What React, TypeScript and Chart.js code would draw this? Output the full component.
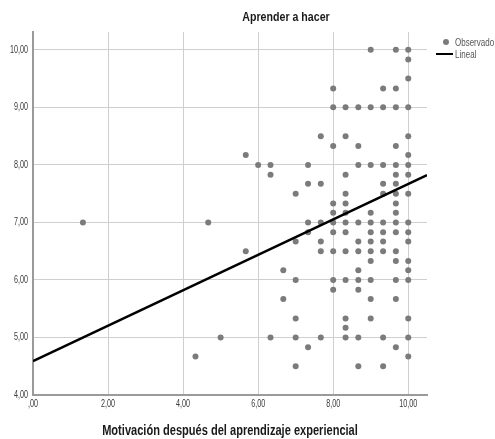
import React, { useEffect, useRef } from "react";
import { Chart, registerables } from "chart.js";

Chart.register(...registerables);

// Observed x values (columns) and the y values observed at each x
const xValues = [1.33, 4.33, 4.67, 5.0, 5.67, 6.0, 6.33, 6.67, 7.0, 7.33, 7.67, 8.0, 8.33, 8.67, 9.0, 9.33, 9.67, 10.0];
const yByX = [
  [7.0],
  [4.67],
  [7.0],
  [5.0],
  [8.17, 6.5],
  [8.0],
  [8.0, 7.83, 5.0],
  [6.17, 5.67],
  [7.5, 6.67, 6.0, 5.33, 5.0, 4.5],
  [8.0, 7.67, 7.0, 6.83, 4.83],
  [8.5, 7.67, 7.0, 6.67, 6.5, 5.0],
  [9.33, 9.0, 8.33, 7.33, 7.17, 7.0, 6.83, 6.5, 6.0, 5.83],
  [9.0, 8.5, 7.83, 7.5, 7.33, 7.17, 7.0, 6.83, 6.5, 6.0, 5.33, 5.17, 5.0],
  [9.0, 8.33, 8.0, 7.0, 6.67, 6.5, 6.17, 6.0, 5.83, 5.0, 4.5],
  [10.0, 9.0, 8.0, 7.17, 7.0, 6.83, 6.67, 6.5, 6.33, 6.0, 5.67, 5.33],
  [9.33, 9.0, 8.0, 7.67, 7.5, 7.0, 6.83, 6.67, 6.5, 5.0, 4.5],
  [10.0, 9.33, 9.0, 8.33, 8.0, 7.83, 7.67, 7.5, 7.33, 7.17, 7.0, 6.83, 6.5, 6.33, 6.0, 5.67, 4.83],
  [10.0, 9.83, 9.5, 9.0, 8.5, 8.17, 8.0, 7.83, 7.5, 7.0, 6.83, 6.67, 6.33, 6.17, 6.0, 5.33, 5.0, 4.67],
];

// Linear fit
const fitIntercept = 4.59;
const fitSlope = 0.308;

// Axis ranges
const xRange = [0, 10.5];
const yRange = [4, 10.31];
const xStep = 2;
const yStep = 1;

const titleText = "Aprender a hacer";
const xAxisTitle = "Motivación después del aprendizaje experiencial";
const legendLabels = ["Observado", "Lineal"];

const FONT = "'Liberation Sans', Arial, sans-serif";
const POINT_COLOR = "#7b7b7b";

const fmt = (v: number) => {
  const s = v.toFixed(2).replace(".", ",");
  return s.startsWith("0,") ? s.slice(1) : s;
};

// draw horizontally condensed text (emulates a narrow face)
function narrowText(ctx: any, text: string, x: number, y: number, font: string, align: string, sx: number, color: string) {
  ctx.save();
  ctx.translate(x, y);
  ctx.scale(sx, 1);
  ctx.font = font;
  ctx.fillStyle = color;
  ctx.textAlign = align;
  ctx.textBaseline = "middle";
  ctx.fillText(text, 0, 0);
  ctx.restore();
}

const textPlugin = {
  id: "spssText",
  afterDraw(chart: any) {
    const ctx = chart.ctx;
    const area = chart.chartArea;
    const xs = chart.scales.x;
    const ys = chart.scales.y;
    // tick labels
    ys.ticks.forEach((t: any) => {
      const py = ys.getPixelForValue(t.value);
      narrowText(ctx, fmt(t.value), area.left - 5, py, `10px ${FONT}`, "right", 0.72, "#3a3a3a");
    });
    xs.ticks.forEach((t: any) => {
      const px = xs.getPixelForValue(t.value);
      narrowText(ctx, fmt(t.value), px, area.bottom + 9, `10px ${FONT}`, "center", 0.72, "#3a3a3a");
    });
    // Title
    narrowText(ctx, titleText, 286, 18, `bold 12.5px ${FONT}`, "center", 0.85, "#1a1a1a");
    // X axis title
    narrowText(ctx, xAxisTitle, (area.left + area.right) / 2, 431, `bold 14px ${FONT}`, "center", 0.79, "#1a1a1a");
    // Legend
    ctx.save();
    ctx.beginPath();
    ctx.arc(446, 42, 3, 0, Math.PI * 2);
    ctx.fillStyle = POINT_COLOR;
    ctx.fill();
    ctx.beginPath();
    ctx.moveTo(436, 54);
    ctx.lineTo(453, 54);
    ctx.strokeStyle = "#000";
    ctx.lineWidth = 2;
    ctx.stroke();
    ctx.restore();
    narrowText(ctx, legendLabels[0], 455, 43, `10px ${FONT}`, "left", 0.8, "#555");
    narrowText(ctx, legendLabels[1], 455, 55, `10px ${FONT}`, "left", 0.8, "#555");
  },
};

export default function App() {
  const ref = useRef<HTMLCanvasElement | null>(null);

  useEffect(() => {
    if (!ref.current) return;
    const points: { x: number; y: number }[] = [];
    xValues.forEach((x, i) => yByX[i].forEach((y) => points.push({ x, y })));
    const lineData = xRange.map((x) => ({ x, y: fitIntercept + fitSlope * x }));

    const chart = new Chart(ref.current, {
      type: "scatter",
      data: {
        datasets: [
          {
            label: legendLabels[1],
            data: lineData,
            showLine: true,
            borderColor: "#000",
            borderWidth: 2.5,
            pointRadius: 0,
            order: 0,
          },
          {
            label: legendLabels[0],
            data: points,
            backgroundColor: POINT_COLOR,
            borderColor: POINT_COLOR,
            borderWidth: 0,
            pointRadius: 3,
            order: 1,
          },
        ],
      },
      options: {
        animation: false,
        responsive: false,
        devicePixelRatio: 1,
        layout: { padding: { top: 32, right: 68, left: 0, bottom: 0 } },
        plugins: {
          legend: { display: false },
          title: { display: false },
          tooltip: { enabled: false },
        },
        scales: {
          x: {
            type: "linear",
            min: xRange[0],
            max: xRange[1],
            afterFit: (s: any) => {
              s.height = 44;
            },
            grid: { color: "#cfcfcf", lineWidth: 1, drawTicks: false },
            border: { display: true, color: "#9a9a9a", width: 2 },
            ticks: {
              display: false,
              stepSize: xStep,
              includeBounds: false,
            },
          },
          y: {
            type: "linear",
            min: yRange[0],
            max: yRange[1],
            afterFit: (s: any) => {
              s.width = 33;
            },
            grid: { color: "#cfcfcf", lineWidth: 1, drawTicks: false },
            border: { display: true, color: "#9a9a9a", width: 2 },
            ticks: {
              display: false,
              stepSize: yStep,
              includeBounds: false,
            },
          },
        },
      },
      plugins: [textPlugin],
    } as any);

    return () => chart.destroy();
  }, []);

  return (
    <div style={{ position: "fixed", left: 0, top: 0, width: 495, height: 439, background: "#fff" }}>
      <canvas ref={ref} width={495} height={439} style={{ width: 495, height: 439 }} />
    </div>
  );
}
